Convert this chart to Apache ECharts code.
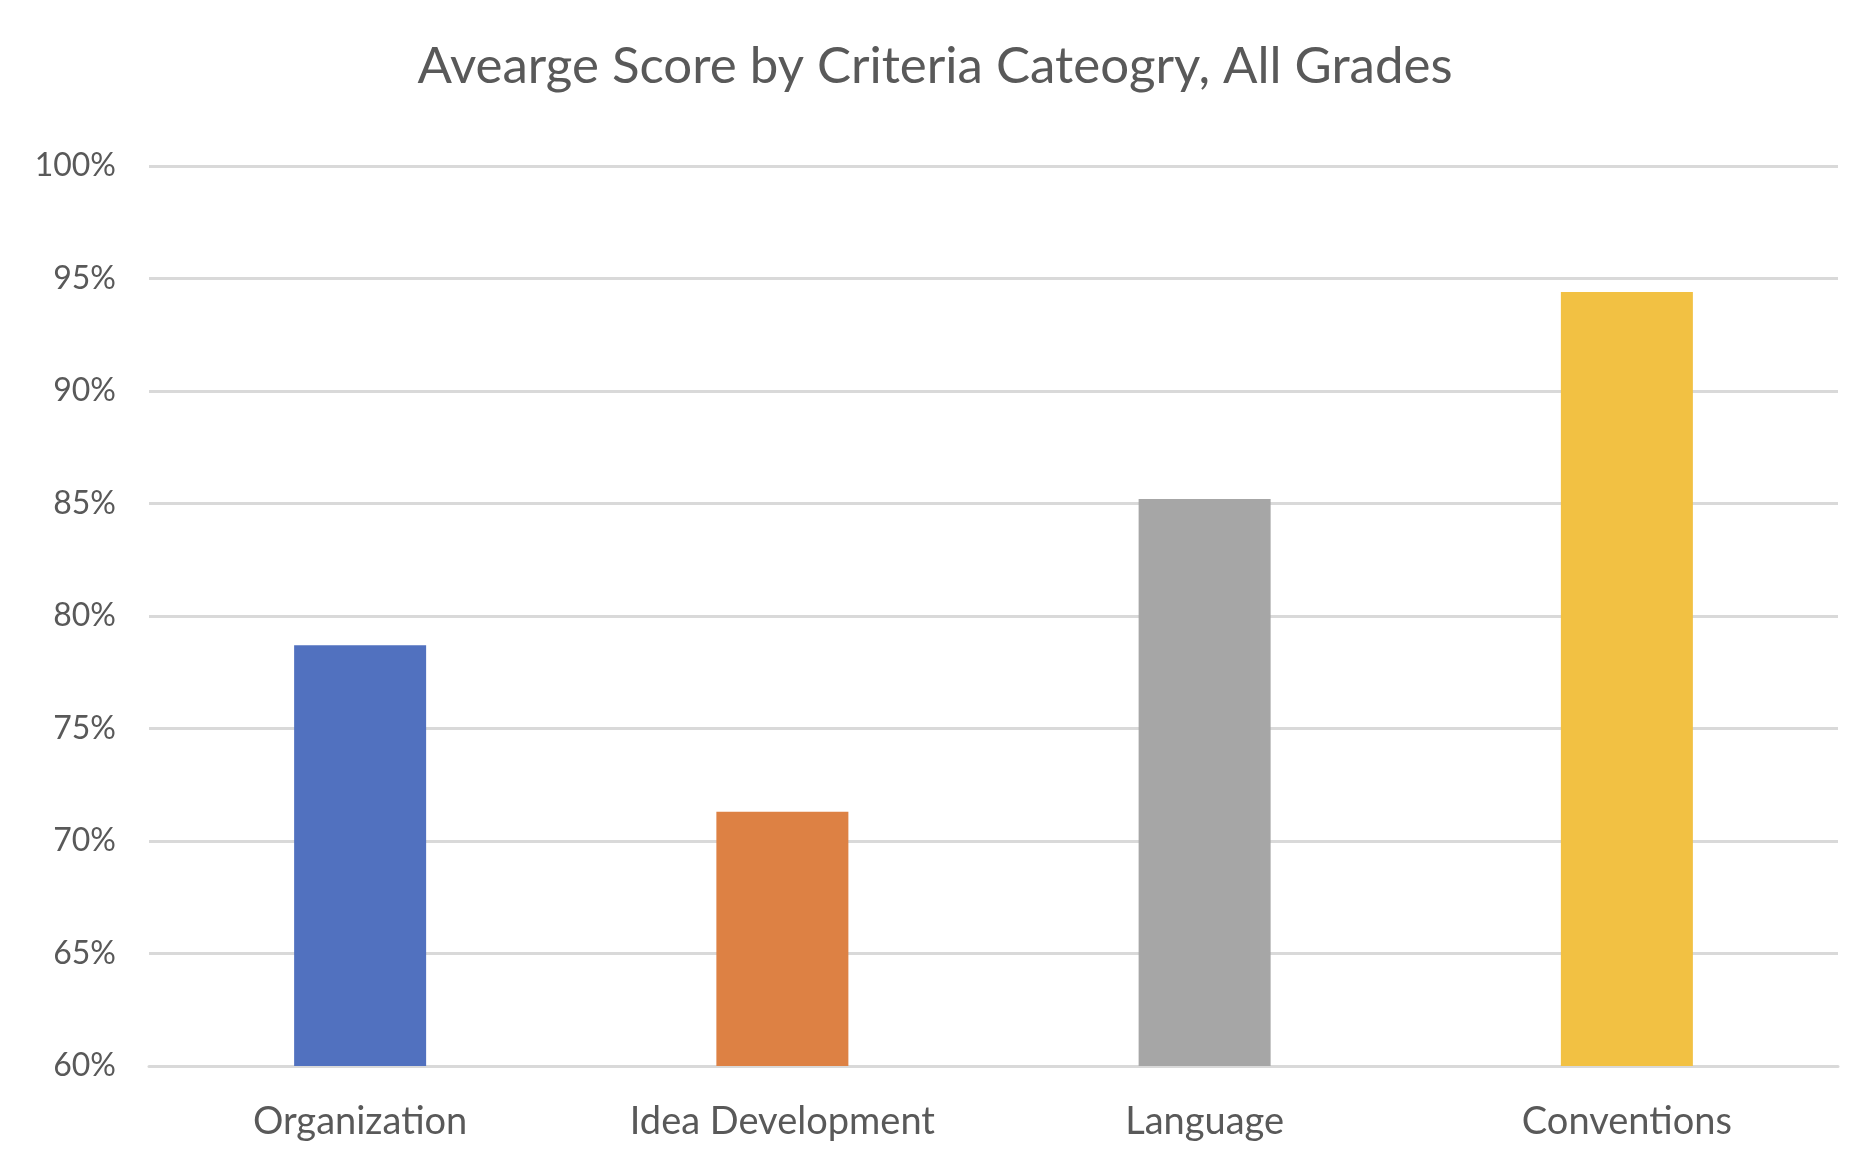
<!DOCTYPE html>
<html>
<head>
<meta charset="utf-8">
<script src="https://cdn.jsdelivr.net/npm/echarts@6/dist/echarts.min.js"></script>
<style>html,body{margin:0;padding:0;background:#fff}#c{width:1870px;height:1152px}</style>
</head>
<body>
<div id="c"></div>
<script>
const titleText = 'Avearge Score by Criteria Cateogry, All Grades';
const categories = ['Organization', 'Idea Development', 'Language', 'Conventions'];
const scores = [78.7, 71.3, 85.2, 94.4];
const barColors = ['#5171BF', '#DD8144', '#A6A6A6', '#F2C143'];
const yTicks = [60, 65, 70, 75, 80, 85, 90, 95, 100];

const chart = echarts.init(document.getElementById('c'));
chart.setOption({
  backgroundColor: '#fff',
  animation: false,
  title: {
    text: titleText, left: 'center', top: 36,
    textStyle: { fontFamily: 'Lato', fontWeight: 'normal', fontSize: 51, color: '#595959' }
  },
  grid: { left: 149, right: 32, top: 166, bottom: 86 },
  xAxis: {
    type: 'category', data: categories,
    axisLine: { show: true, lineStyle: { color: '#D9D9D9', width: 3 } },
    axisTick: { show: false },
    axisLabel: { fontFamily: 'Lato', fontSize: 38, color: '#595959', margin: 37 }
  },
  yAxis: {
    type: 'value', min: yTicks[0], max: yTicks[yTicks.length - 1], interval: 5,
    axisLine: { show: false }, axisTick: { show: false },
    splitLine: { lineStyle: { color: '#D9D9D9', width: 3 } },
    axisLabel: { fontFamily: 'Lato', fontSize: 32, color: '#595959', margin: 33, formatter: v => v + '%' }
  },
  series: [{
    type: 'bar', barWidth: 132,
    data: scores.map((v, i) => ({ value: v, itemStyle: { color: barColors[i] } }))
  }]
});
</script>
</body>
</html>
